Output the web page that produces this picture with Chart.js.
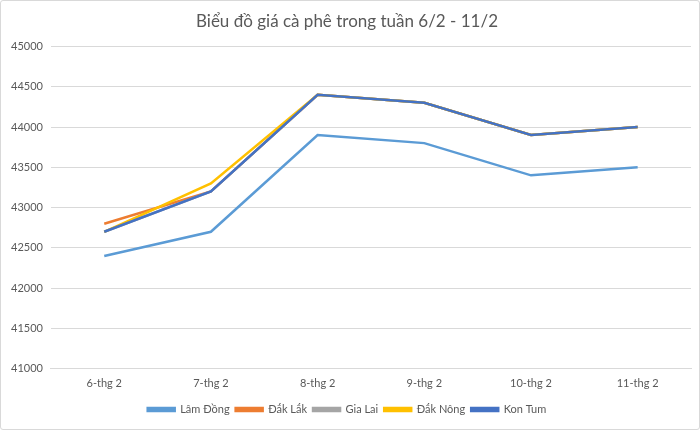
<!DOCTYPE html>
<html><head><meta charset="utf-8">
<script src="https://cdn.jsdelivr.net/npm/chart.js@4/dist/chart.umd.min.js"></script>
<style>
html,body{margin:0;padding:0;background:#fff;}
#wrap{position:absolute;left:0;top:0;width:698px;height:428px;border:1px solid #d9d9d9;border-radius:3px;}
canvas{display:block;}
</style></head>
<body><div id="wrap"><canvas id="c" width="698" height="428"></canvas></div>
<script>
const categories = ['6-thg 2','7-thg 2','8-thg 2','9-thg 2','10-thg 2','11-thg 2'];
const lamDong = [42400, 42700, 43900, 43800, 43400, 43500];
const dakLak  = [42800, 43200, 44400, 44300, 43900, 44000];
const giaLai  = [42700, 43200, 44400, 44300, 43900, 44000];
const dakNong = [42700, 43300, 44400, 44300, 43900, 44000];
const konTum  = [42700, 43200, 44400, 44300, 43900, 44000];
const seriesNames = ['Lâm Đồng','Đắk Lắk','Gia Lai','Đắk Nông','Kon Tum'];
const colors = ['#5B9BD5','#ED7D31','#A5A5A5','#FFC000','#4472C4'];
const seriesData = [lamDong, dakLak, giaLai, dakNong, konTum];

const font = "Lato, 'Open Sans', sans-serif";
const datasets = seriesData.map((d,i)=>({
  label: seriesNames[i], data: d, borderColor: colors[i], backgroundColor: colors[i],
  borderWidth: 2.5, pointRadius: 0, tension: 0, order: 5 - i, fill: false
}));

new Chart(document.getElementById('c'), {
  type: 'line',
  data: { labels: categories, datasets },
  options: {
    responsive: false, animation: false,
    layout: { padding: { left: 2, right: 8, top: 6, bottom: 4 } },
    plugins: {
      title: { display: true, text: 'Biểu đồ giá cà phê trong tuần 6/2 - 11/2', color: '#595959',
        font: { family: font, size: 17, weight: 'normal' }, padding: { top: 4, bottom: 15 } },
      legend: { position: 'bottom', labels: { color: '#595959', font: { family: font, size: 11 },
        boxWidth: 27, boxHeight: 3, padding: 6,
        sort: (a,b)=>a.datasetIndex-b.datasetIndex } },
      tooltip: { enabled: false }
    },
    scales: {
      x: { offset: true, grid: { display: false, drawTicks: false }, border: { color: '#d9d9d9' },
        ticks: { color: '#595959', font: { family: font, size: 11 }, padding: 8 } },
      y: { min: 41000, max: 45000, grid: { color: '#d9d9d9', drawTicks: false }, border: { display: false },
        ticks: { stepSize: 500, color: '#595959', font: { family: font, size: 11 }, padding: 8,
          callback: v => String(v) } }
    }
  }
});
</script></body></html>
